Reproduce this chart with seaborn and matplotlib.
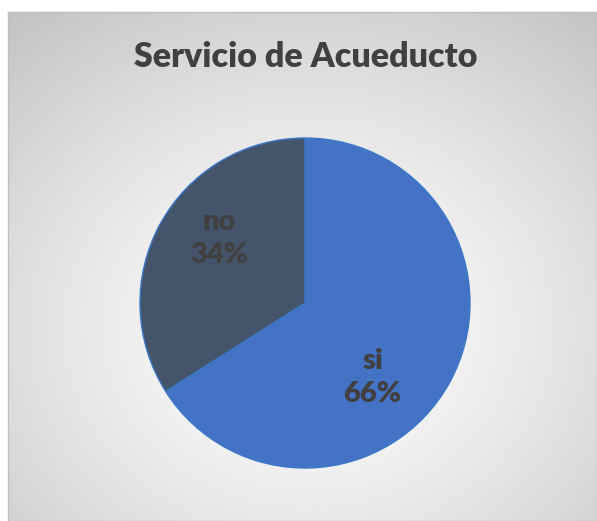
import matplotlib
matplotlib.use("Agg")
import matplotlib.pyplot as plt
import numpy as np
import seaborn as sns

# data
categories = ["si", "no"]
values = [66, 34]
colors = ["#4472C4", "#44546A"]
title = "Servicio de Acueducto"

sns.set_style("white")
plt.rcParams['font.family'] = ['Lato', 'DejaVu Sans']

W, H = 597, 521
fig = plt.figure(figsize=(W / 100, H / 100), dpi=100)
fig.patch.set_facecolor("white")

# chart area with radial gradient background
bg = fig.add_axes([8 / W, 0, (W - 8) / W, (H - 12) / H])
ny, nx = 300, 340
yy, xx = np.mgrid[0:ny, 0:nx]
cx, cy = nx * 0.51, ny * 0.62
d = np.hypot((xx - cx) / nx, (yy - cy) / ny)
d = d / d.max()
grad = 1.0 - 0.24 * d ** 1.3
bg.imshow(grad, cmap="gray", vmin=0, vmax=1, aspect="auto",
          extent=[0, 1, 0, 1], origin="upper", interpolation="bilinear")
bg.set_xticks([])
bg.set_yticks([])
for s in bg.spines.values():
    s.set_color("#BFBFBF")
    s.set_linewidth(1)

# pie
r = 165
pcx, pcy = 305, 303
ax = fig.add_axes([(pcx - r) / W, (H - pcy - r) / H, 2 * r / W, 2 * r / H])
ax.set_facecolor("none")
wedges, _ = ax.pie(values, colors=sns.color_palette(colors), startangle=90,
                   counterclock=False, radius=1,
                   wedgeprops=dict(edgecolor="#3C78C8", linewidth=1))
ax.set_xlim(-1, 1)
ax.set_ylim(-1, 1)
ax.set_aspect("equal")
ax.axis("off")

# data labels
label_pos = [(0.41, -0.45), (-0.52, 0.39)]
total = sum(values)
for cat, v, (lx, ly) in zip(categories, values, label_pos):
    ax.text(lx, ly, f"{cat}\n{round(100 * v / total)}%", ha="center", va="center",
            fontsize=21, fontweight="heavy", color="#404040", linespacing=1.35)

fig.text(306 / W, 1 - 57 / H, title, ha="center", va="center",
         fontsize=24.5, fontweight="heavy", color="#404040")

fig.savefig("out.png", dpi=100)
